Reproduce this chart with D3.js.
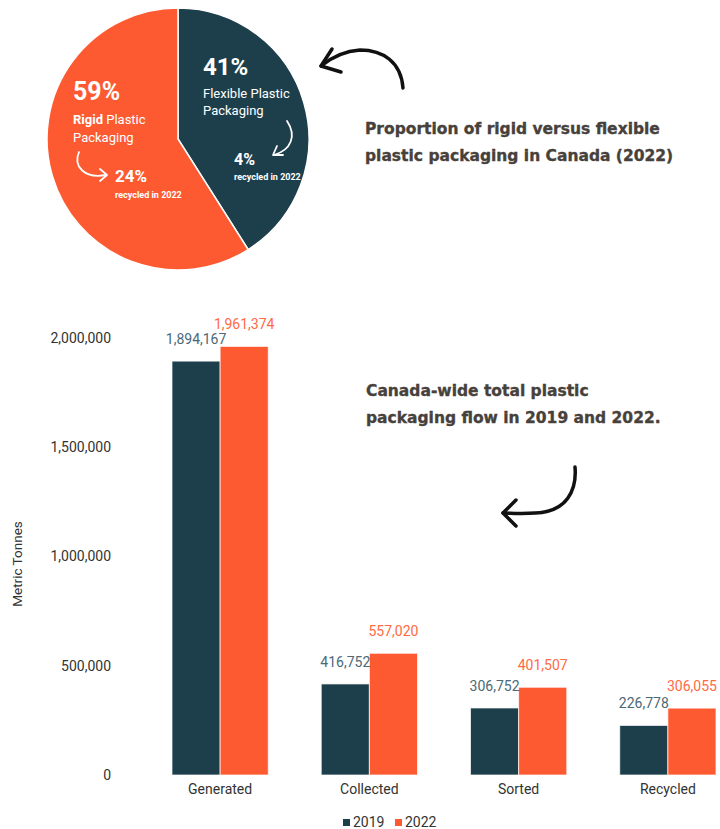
<!DOCTYPE html>
<html>
<head>
<meta charset="utf-8">
<script src="https://cdn.jsdelivr.net/npm/d3@7"></script>
<style>
  body { margin: 0; background: #fff; }
  svg { display: block; }
  .tick text { font-family: Roboto, sans-serif; }
</style>
</head>
<body>
<div id="chart"></div>
<script>
// pie data (2022)
var pieNames = ["Flexible", "Rigid"];
var pieShares = [41, 59];
var pieRecycled = [4, 24];

// bar data
var categories = ["Generated", "Collected", "Sorted", "Recycled"];
var years = ["2019", "2022"];
var values2019 = [1894167, 416752, 306752, 226778];
var values2022 = [1961374, 557020, 401507, 306055];
var yTicks = [0, 500000, 1000000, 1500000, 2000000];

var W = 720, H = 829;
var teal = "#1d3f4c", orange = "#fd5a32";
var titleColor = "#47413b";

var svg = d3.select("#chart").append("svg")
	.attr("width", W).attr("height", H);

// ---------- pie ----------
var pieG = svg.append("g").attr("transform", "translate(178,139)");
var pie = d3.pie().sort(null).value(function(d){ return d; });
var arc = d3.arc().innerRadius(0).outerRadius(131);

pieG.selectAll("path.slice").data(pie(pieShares)).enter().append("path")
	.attr("class", "slice")
	.attr("d", arc)
	.attr("fill", function(d, i){ return i == 0 ? teal : orange; })
	.attr("stroke", "#fff")
	.attr("stroke-width", 1.5);

var txt = svg.append("g").attr("fill", "#fff").style("font-family", "Roboto, sans-serif");

// flexible side
txt.append("text").attr("x", 203).attr("y", 75)
	.style("font-size", "24px").style("font-weight", 700).text(pieShares[0] + "%");
txt.append("text").attr("x", 203).attr("y", 98)
	.style("font-size", "13px").text(pieNames[0] + " Plastic");
txt.append("text").attr("x", 203).attr("y", 115)
	.style("font-size", "13px").text("Packaging");
txt.append("text").attr("x", 234).attr("y", 165)
	.style("font-size", "16px").style("font-weight", 700).text(pieRecycled[0] + "%");
txt.append("text").attr("x", 234).attr("y", 180)
	.style("font-size", "9px").style("font-weight", 700).text("recycled in 2022");

// rigid side
txt.append("text").attr("x", 73).attr("y", 100)
	.style("font-size", "25px").style("font-weight", 700).text(pieShares[1] + "%");
var rt = txt.append("text").attr("x", 73).attr("y", 124).style("font-size", "13px");
rt.append("tspan").style("font-weight", 700).text(pieNames[1]);
rt.append("tspan").text(" Plastic");
txt.append("text").attr("x", 73).attr("y", 142)
	.style("font-size", "13px").text("Packaging");
txt.append("text").attr("x", 115).attr("y", 182)
	.style("font-size", "17px").style("font-weight", 700).text(pieRecycled[1] + "%");
txt.append("text").attr("x", 115).attr("y", 198)
	.style("font-size", "9px").style("font-weight", 700).text("recycled in 2022");

// small white arrows
var white = svg.append("g").attr("fill", "none").attr("stroke", "#fff")
	.attr("stroke-width", 1.8).attr("stroke-linecap", "round").attr("stroke-linejoin", "round");
white.append("path").attr("d", "M79,152 C73,166 84,179 106,175");
white.append("path").attr("d", "M100,169 L107,175 L100,181");
white.append("path").attr("d", "M287,121 C297,136 291,150 274,155");
white.append("path").attr("d", "M277,146 L273,155 L283,155");

// big black arrows
var black = svg.append("g").attr("fill", "none").attr("stroke", "#111")
	.attr("stroke-width", 3.5).attr("stroke-linecap", "round").attr("stroke-linejoin", "round");
black.append("path").attr("d", "M403,88 C401,62 383,50 360,50 C345,51 332,57 321,66");
black.append("path").attr("d", "M332,49 L321,66 L341,72");
black.append("path").attr("d", "M575,467 C577,490 567,512 535,513 C520,514 510,513 503,513");
black.append("path").attr("d", "M516,500 L503,513 L516,526");

// titles
var titles = svg.append("g").attr("fill", titleColor)
	.attr("stroke", titleColor).attr("stroke-width", 0.35)
	.style("font-family", "'DejaVu Sans', sans-serif").style("font-weight", 700)
	.style("font-size", "15.5px");
titles.append("text").attr("x", 365).attr("y", 134).text("Proportion of rigid versus flexible");
titles.append("text").attr("x", 365).attr("y", 161).text("plastic packaging in Canada (2022)");
titles.append("text").attr("x", 366).attr("y", 396).text("Canada-wide total plastic");
titles.append("text").attr("x", 366).attr("y", 423).text("packaging flow in 2019 and 2022.");

// ---------- bar chart ----------
var x = d3.scaleBand().domain(categories).range([145.5, 742.5])
	.paddingInner(0.355).paddingOuter(0.1775);
var x1 = d3.scaleBand().domain(years).range([0, x.bandwidth()]);
var y = d3.scaleLinear().domain([0, 2000000]).range([775, 338]);

var yAxis = svg.append("g").attr("transform", "translate(116,0)")
	.call(d3.axisLeft(y).tickValues(yTicks).tickSize(0).tickPadding(5).tickFormat(d3.format(",")));
yAxis.select(".domain").remove();
yAxis.selectAll("text").attr("fill", "#333").style("font-size", "14px");

var xAxis = svg.append("g").attr("transform", "translate(0,775)")
	.call(d3.axisBottom(x).tickSize(0).tickPadding(9));
xAxis.select(".domain").remove();
xAxis.selectAll("text").attr("fill", "#333").style("font-size", "14px");

svg.append("text")
	.attr("transform", "translate(22,564) rotate(-90)")
	.attr("text-anchor", "middle")
	.attr("fill", "#333")
	.style("font-family", "Roboto, sans-serif").style("font-size", "13.5px")
	.text("Metric Tonnes");

var rows = categories.map(function(c, i){
	return { cat: c, vals: [
		{ year: years[0], v: values2019[i] },
		{ year: years[1], v: values2022[i] }
	]};
});

var groups = svg.selectAll(".grp").data(rows).enter().append("g")
	.attr("class", "grp")
	.attr("transform", function(d){ return "translate(" + x(d.cat) + ",0)"; });

groups.selectAll("rect").data(function(d){ return d.vals; }).enter().append("rect")
	.attr("x", function(d){ return x1(d.year); })
	.attr("y", function(d){ return y(d.v); })
	.attr("width", x1.bandwidth())
	.attr("height", function(d){ return y(0) - y(d.v); })
	.attr("fill", function(d){ return d.year == "2019" ? teal : orange; })
	.attr("stroke", "rgba(255,255,255,0.7)")
	.attr("stroke-width", 1);

groups.selectAll("text.val").data(function(d){ return d.vals; }).enter().append("text")
	.attr("class", "val")
	.attr("x", function(d){ return x1(d.year) + x1.bandwidth() / 2; })
	.attr("y", function(d){ return y(d.v) - 17; })
	.attr("text-anchor", "middle")
	.attr("fill", function(d){ return d.year == "2019" ? "#4b6977" : "#ff6a44"; })
	.style("font-family", "Roboto, sans-serif").style("font-size", "14px")
	.text(function(d){ return d3.format(",")(d.v); });

// legend
var legend = svg.append("g").style("font-family", "Roboto, sans-serif").style("font-size", "14px");
var lx = [343, 395];
years.forEach(function(yr, i){
	legend.append("rect").attr("x", lx[i]).attr("y", 819).attr("width", 7).attr("height", 7)
		.attr("fill", i == 0 ? teal : orange);
	legend.append("text").attr("x", lx[i] + 10).attr("y", 827).attr("fill", "#333").text(yr);
});
</script>
</body>
</html>
